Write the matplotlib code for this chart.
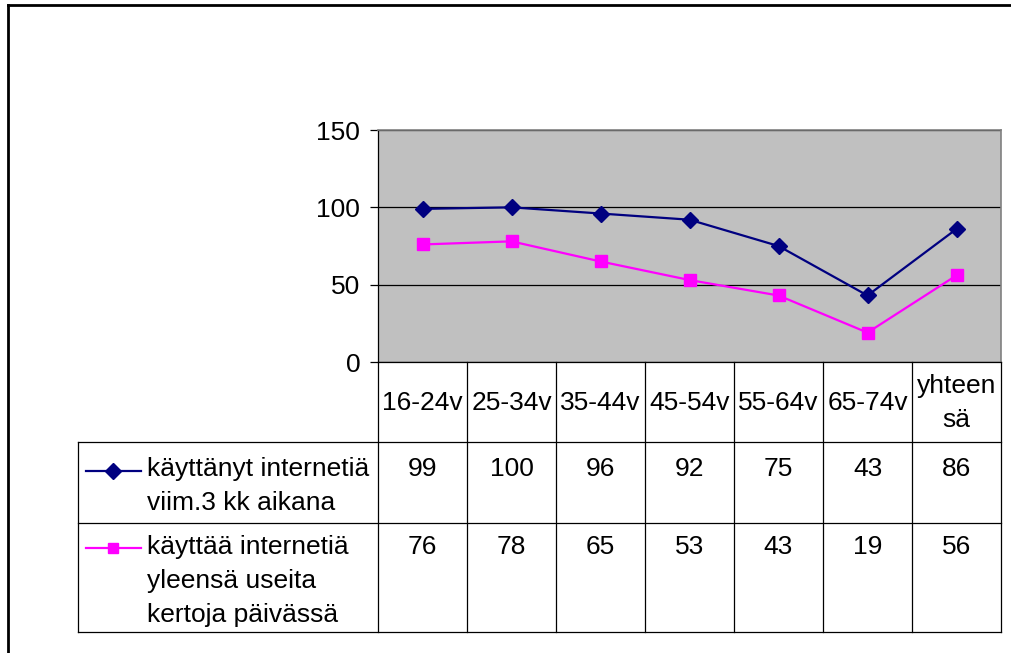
import matplotlib
matplotlib.use("Agg")
import matplotlib.pyplot as plt
from matplotlib.transforms import blended_transform_factory, Affine2D
from matplotlib.lines import Line2D

# Age groups (last column = all ages)
categories = ["16-24v", "25-34v", "35-44v", "45-54v", "55-64v", "65-74v", "yhteen\nsä"]

# Share of respondents (%)
used_last_3m = [99, 100, 96, 92, 75, 43, 86]
used_daily = [76, 78, 65, 53, 43, 19, 56]

series_names = [
    "käyttänyt internetiä\nviim.3 kk aikana",
    "käyttää internetiä\nyleensä useita\nkertoja päivässä",
]
y_ticks = [0, 50, 100, 150]

plt.rcParams["font.family"] = ["Liberation Sans", "DejaVu Sans"]
FS = 19

W, H = 1011, 653
fig = plt.figure(figsize=(W / 100, H / 100), dpi=100)
fig.patch.set_facecolor("white")

# pixel coordinates (origin top-left) -> figure
px = Affine2D().scale(1 / W, -1 / H).translate(0, 1) + fig.transFigure

ax = fig.add_axes([378 / W, 1 - 362 / H, 623 / W, 232 / H])
ax.set_facecolor("#C0C0C0")
ax.set_xlim(-0.5, len(categories) - 0.5)
ax.set_ylim(0, 150)
ax.set_yticks(y_ticks)
ax.set_xticks([])
ax.yaxis.grid(True, color="black", lw=0.9)
ax.tick_params(axis="y", direction="out", length=5.8, width=0.9, pad=7,
               labelsize=FS, colors="black")
for side in ("left", "bottom"):
    ax.spines[side].set_color("black")
    ax.spines[side].set_linewidth(0.9)
for side in ("top", "right"):
    ax.spines[side].set_color("#808080")
    ax.spines[side].set_linewidth(1.2)

styles = [
    dict(color="#000080", lw=1.6, marker="D", ms=8.5),
    dict(color="#FF00FF", lw=1.6, marker="s", ms=8.2),
]
series = [used_last_3m, used_daily]
xs = list(range(len(categories)))
for vals, st in zip(series, styles):
    ax.plot(xs, vals, clip_on=False, zorder=3, **st)

# ---- data table below the plot ----
tr = blended_transform_factory(ax.transData, px)
LW = 0.9
hdr_top, row1_top, row2_top, tbl_bottom = 362, 442, 523, 632
legend_left = 78

for i in range(len(categories) + 1):
    fig.add_artist(Line2D([i - 0.5, i - 0.5], [hdr_top, tbl_bottom], transform=tr,
                          color="black", lw=LW))
for y in (row1_top, row2_top, tbl_bottom):
    fig.add_artist(Line2D([legend_left, 1001], [y, y], transform=px,
                          color="black", lw=LW))
fig.add_artist(Line2D([legend_left, legend_left], [row1_top, tbl_bottom], transform=px,
                      color="black", lw=LW))

PITCH = 34
# header labels
for i, cat in enumerate(categories):
    lines = cat.split("\n")
    n = len(lines)
    for k, line in enumerate(lines):
        yb = 410 + PITCH * (k - (n - 1) / 2)
        fig.text(i, yb, line, transform=tr, ha="center", va="baseline", fontsize=FS)

# value rows
row_baselines = [476, 554]
for vals, yb in zip(series, row_baselines):
    for i, v in enumerate(vals):
        fig.text(i, yb, str(v), transform=tr, ha="center", va="baseline", fontsize=FS)

# legend keys and series names
key_y = [471, 548]
key_ms = [8.0, 7.2]
for name, st, yb, ky, ms in zip(series_names, styles, row_baselines, key_y, key_ms):
    fig.add_artist(Line2D([86, 141], [ky, ky], transform=px, color=st["color"], lw=st["lw"]))
    fig.add_artist(Line2D([113], [ky], transform=px, color=st["color"], lw=0,
                          marker=st["marker"], ms=ms))
    for k, line in enumerate(name.split("\n")):
        fig.text(147, yb + PITCH * k, line, transform=px, ha="left", va="baseline",
                 fontsize=FS)

# outer frame
fig.add_artist(Line2D([8, W], [4.5, 4.5], transform=px, color="black", lw=2))
fig.add_artist(Line2D([8, 8], [4.5, H], transform=px, color="black", lw=2))

fig.savefig("out.png", dpi=100)
